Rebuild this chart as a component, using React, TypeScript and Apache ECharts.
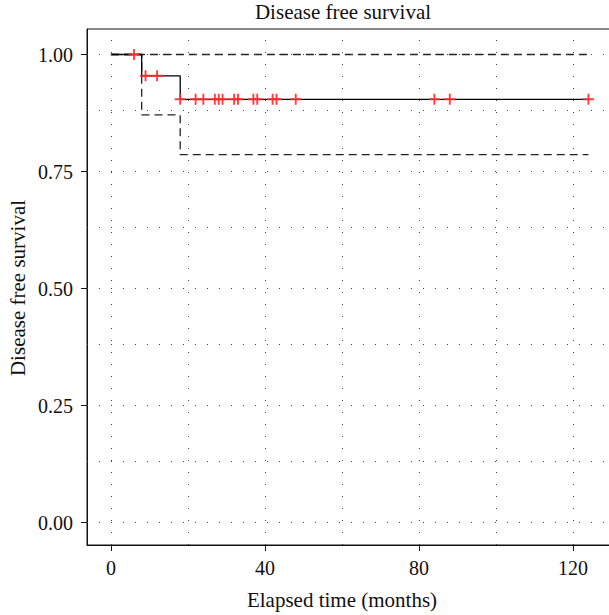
import React, { useEffect, useRef } from "react";
import * as echarts from "echarts";

// Kaplan–Meier estimate (event times and survival after each event)
const stepTimes = [0, 8, 18, 124];
const survival = [1, 0.9545, 0.9043, 0.9043];
const lowerCI = [1, 0.871, 0.786, 0.786];
const upperCI = [1, 1, 1, 1];
// censored observations (months)
const censorTimes = [6, 9, 12, 18, 22, 24, 27, 28, 29, 32, 33, 37, 38, 42, 43, 48, 84, 88, 124];
// axis ticks and grid
const xTicks = [0, 40, 80, 120];
const yTicks = [0, 0.25, 0.5, 0.75, 1];
const xGrid = [0, 20, 40, 60, 80, 100, 120];
const yGrid = [0, 0.125, 0.25, 0.375, 0.5, 0.625, 0.75, 0.875, 1];

const titleText = "Disease free survival";
const xName = "Elapsed time (months)";
const yName = "Disease free survival";

const FONT = "'Liberation Serif', 'DejaVu Serif', serif";

function survAt(t: number): number {
  let s = survival[0];
  for (let i = 0; i < stepTimes.length; i++) {
    if (stepTimes[i] <= t) s = survival[i];
  }
  return s;
}

const PLUS = "path://M4.15,0H5.85V10H4.15Z M0,4.15H10V5.85H0Z";

export default function App() {
  const ref = useRef<HTMLDivElement>(null);
  useEffect(() => {
    if (!ref.current) return;
    const chart = echarts.init(ref.current, undefined, { renderer: "svg" });
    const gridLine = { type: [1, 11] as any, color: "#444", width: 1 };
    const textStyle = (t: string) => ({
      text: t,
      font: `21px ${FONT}`,
      fill: "#111",
      textAlign: "center",
      textVerticalAlign: "middle",
    });
    chart.setOption({
      animation: false,
      backgroundColor: "#fff",
      graphic: [
        { type: "text", x: 343, y: 12, style: textStyle(titleText) },
        { type: "text", x: 342, y: 600, style: textStyle(xName) },
        { type: "text", x: 18, y: 288, rotation: Math.PI / 2, style: textStyle(yName) },
      ],
      grid: {
        left: 87,
        top: 29,
        width: 523,
        height: 516,
        show: true,
        borderColor: "#111",
        borderWidth: 1,
        outerBoundsMode: "none",
        containLabel: false,
      },
      xAxis: {
        type: "value",
        min: -6.2,
        max: 129.6,
        axisLine: { show: true, onZero: false, lineStyle: { color: "#111", width: 1 } },
        axisTick: { show: true, length: 6, customValues: xTicks, lineStyle: { color: "#111" } },
        axisLabel: {
          customValues: xTicks,
          margin: 13,
          fontSize: 20,
          fontFamily: FONT,
          color: "#111",
        },
        splitLine: { show: false },
      },
      yAxis: {
        type: "value",
        min: -0.048,
        max: 1.0545,
        axisLine: { show: true, onZero: false, lineStyle: { color: "#111", width: 1 } },
        axisTick: { show: true, length: 6, customValues: yTicks, lineStyle: { color: "#111" } },
        axisLabel: {
          customValues: yTicks,
          margin: 14,
          fontSize: 20,
          fontFamily: FONT,
          color: "#111",
          formatter: (v: number) => v.toFixed(2),
        },
        splitLine: { show: false },
      },
      series: [
        {
          type: "line",
          data: [],
          z: 1,
          silent: true,
          markLine: {
            silent: true,
            symbol: ["none", "none"],
            label: { show: false },
            lineStyle: gridLine,
            data: [
              ...xGrid.map((v) => ({ xAxis: v, lineStyle: gridLine })),
              ...yGrid.map((v) => ({ yAxis: v, lineStyle: gridLine })),
            ],
          },
        },
        {
          type: "line",
          step: "end",
          z: 3,
          showSymbol: false,
          data: stepTimes.map((t, i) => [t, upperCI[i]]),
          lineStyle: { color: "#222", width: 1.3, type: [8, 5] },
        },
        {
          type: "line",
          step: "end",
          z: 3,
          showSymbol: false,
          data: stepTimes.map((t, i) => [t, lowerCI[i]]),
          lineStyle: { color: "#222", width: 1.3, type: [8, 5] },
        },
        {
          type: "line",
          step: "end",
          z: 4,
          showSymbol: false,
          data: stepTimes.map((t, i) => [t, survival[i]]),
          lineStyle: { color: "#000", width: 1.3 },
        },
        {
          type: "scatter",
          z: 5,
          symbol: PLUS,
          symbolSize: 11,
          data: censorTimes.map((t) => [t, survAt(t)]),
          itemStyle: { color: "#ff2a2a", opacity: 0.9 },
        },
      ],
    });
    return () => chart.dispose();
  }, []);
  return (
    <div
      ref={ref}
      style={{ position: "absolute", left: 0, top: 0, width: 609, height: 615 }}
    />
  );
}
